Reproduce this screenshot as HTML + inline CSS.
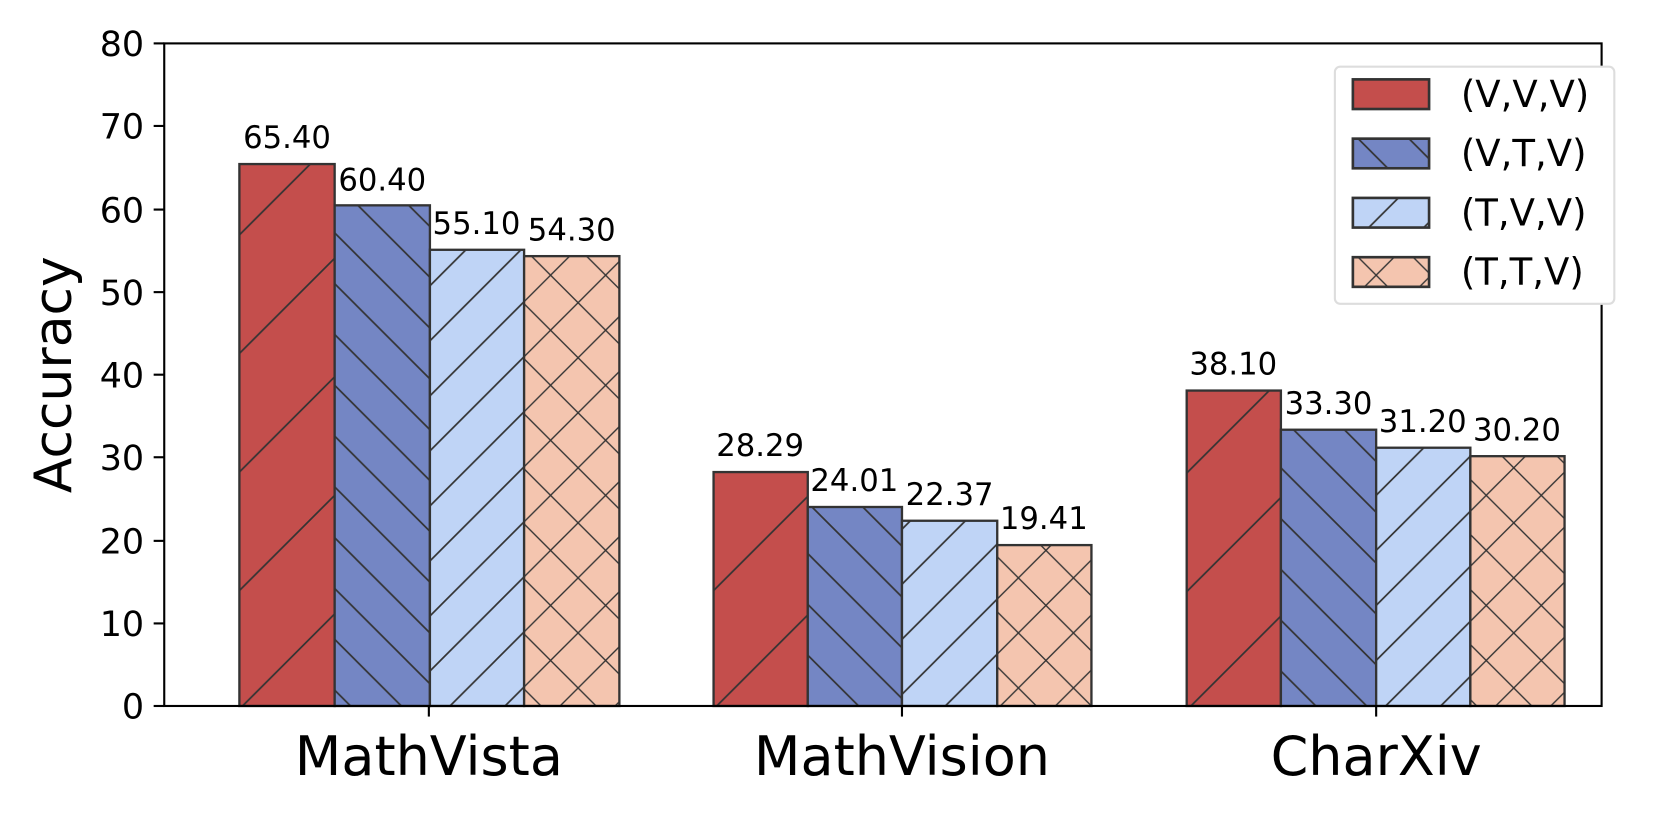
<!DOCTYPE html><html><head><style>body{margin:0;background:#fff}</style></head><body>
<svg width="1660" height="815" viewBox="0 0 1568 770" xmlns="http://www.w3.org/2000/svg" font-family="DejaVu Sans, Liberation Sans, sans-serif" style="display:block">
<defs>
<pattern id="pr" patternUnits="userSpaceOnUse" width="112" height="112"><rect width="112" height="112" fill="#c44e4c"/><path d="M-10,122 L122,-10 M-66,66 L66,-66 M46,178 L178,46" stroke="#333" stroke-width="1.6"/></pattern>
<pattern id="pb" patternUnits="userSpaceOnUse" width="48" height="48"><rect width="48" height="48" fill="#7486c4"/><path d="M-10,-10 L58,58 M-34,14 L34,82 M14,-34 L82,34" stroke="#333" stroke-width="1.6"/></pattern>
<pattern id="pl" patternUnits="userSpaceOnUse" width="52" height="52"><rect width="52" height="52" fill="#bfd4f6"/><path d="M-10,62 L62,-10 M-36,36 L36,-36 M16,88 L88,16" stroke="#333" stroke-width="1.6"/></pattern>
<pattern id="pp" patternUnits="userSpaceOnUse" width="52" height="52"><rect width="52" height="52" fill="#f4c5af"/><path d="M-10,62 L62,-10 M-36,36 L36,-36 M16,88 L88,16 M-10,-10 L62,62 M-36,16 L36,88 M16,-36 L88,36" stroke="#333" stroke-width="1.3"/></pattern>
</defs>
<g stroke="#333" stroke-width="2.2">
<rect x="226" y="155" width="90" height="512" fill="url(#pr)"/>
<rect x="316" y="194" width="90" height="473" fill="url(#pb)"/>
<rect x="406" y="236" width="89" height="431" fill="url(#pl)"/>
<rect x="495" y="242" width="90" height="425" fill="url(#pp)"/>
<rect x="674" y="446" width="89" height="221" fill="url(#pr)"/>
<rect x="763" y="479" width="89" height="188" fill="url(#pb)"/>
<rect x="852" y="492" width="90" height="175" fill="url(#pl)"/>
<rect x="942" y="515" width="89" height="152" fill="url(#pp)"/>
<rect x="1121" y="369" width="89" height="298" fill="url(#pr)"/>
<rect x="1210" y="406" width="90" height="261" fill="url(#pb)"/>
<rect x="1300" y="423" width="89" height="244" fill="url(#pl)"/>
<rect x="1389" y="431" width="89" height="236" fill="url(#pp)"/>
</g>
<g font-size="29" text-anchor="middle" fill="#000">
<text x="271" y="140">65.40</text><text x="361" y="180">60.40</text><text x="450" y="221">55.10</text><text x="540" y="227">54.30</text>
<text x="718" y="431">28.29</text><text x="807" y="464">24.01</text><text x="897" y="477">22.37</text><text x="986" y="500">19.41</text>
<text x="1165" y="354">38.10</text><text x="1255" y="391">33.30</text><text x="1344" y="408">31.20</text><text x="1433" y="416">30.20</text>
</g>
<rect x="155" y="41" width="1358" height="626" fill="none" stroke="#000" stroke-width="2"/>
<g stroke="#000" stroke-width="2">
<line x1="145" x2="155" y1="667" y2="667"/><line x1="145" x2="155" y1="589" y2="589"/><line x1="145" x2="155" y1="511" y2="511"/><line x1="145" x2="155" y1="432" y2="432"/><line x1="145" x2="155" y1="354" y2="354"/><line x1="145" x2="155" y1="276" y2="276"/><line x1="145" x2="155" y1="198" y2="198"/><line x1="145" x2="155" y1="119" y2="119"/><line x1="145" x2="155" y1="41" y2="41"/>
<line x1="405" x2="405" y1="667" y2="677"/><line x1="852" x2="852" y1="667" y2="677"/><line x1="1300" x2="1300" y1="667" y2="677"/>
</g>
<g font-size="33" text-anchor="end">
<text x="136" y="679">0</text><text x="136" y="601">10</text><text x="136" y="523">20</text><text x="136" y="444">30</text><text x="136" y="366">40</text><text x="136" y="288">50</text><text x="136" y="210">60</text><text x="136" y="131">70</text><text x="136" y="53">80</text>
</g>
<g font-size="51" text-anchor="middle"><text x="405" y="732">MathVista</text><text x="852" y="732">MathVision</text><text x="1300" y="732">CharXiv</text></g>
<text transform="translate(67,354) rotate(-90)" font-size="49" text-anchor="middle">Accuracy</text>
<rect x="1261" y="63" width="264" height="224" rx="5" fill="#fff" stroke="#ddd" stroke-width="2"/>
<g stroke="#333" stroke-width="2.5">
<rect x="1278" y="75" width="72" height="28" fill="url(#pr)"/>
<rect x="1278" y="131" width="72" height="28" fill="url(#pb)"/>
<rect x="1278" y="187" width="72" height="28" fill="url(#pl)"/>
<rect x="1278" y="243" width="72" height="28" fill="url(#pp)"/>
</g>
<g font-size="35"><text x="1380" y="101">(V,V,V)</text><text x="1380" y="157">(V,T,V)</text><text x="1380" y="213">(T,V,V)</text><text x="1380" y="269">(T,T,V)</text></g>
</svg></body></html>
